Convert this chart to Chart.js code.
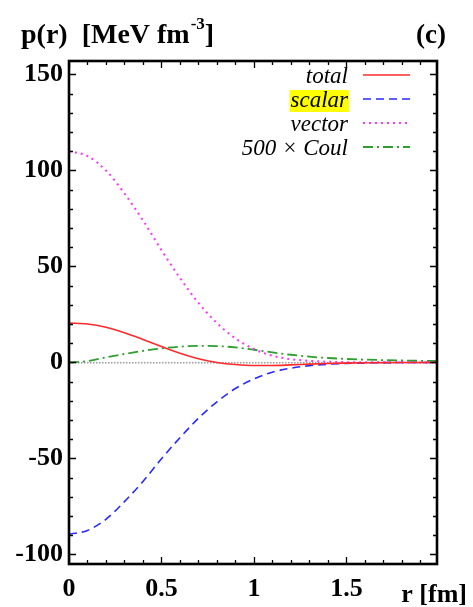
<!DOCTYPE html>
<html>
<head>
<meta charset="utf-8">
<script src="https://cdn.jsdelivr.net/npm/chart.js@4/dist/chart.umd.min.js"></script>
<style>
  html, body { margin: 0; padding: 0; background: #ffffff; }
  #wrap { width: 473px; height: 607px; position: relative; }
</style>
</head>
<body>
<div id="wrap"><canvas id="c" width="473" height="607"></canvas></div>
<script>
// radius grid (fm)
const radius = [0, 0.1, 0.2, 0.3, 0.4, 0.5, 0.6, 0.7, 0.8, 0.9, 1.0,
                1.1, 1.2, 1.3, 1.4, 1.5, 1.6, 1.7, 1.8, 1.9, 2.0];

// pressure components p(r) in MeV fm^-3
const pTotal  = [20.5, 20.0, 18.3, 15.5, 12.0, 8.3, 4.8, 1.9, 0.0, -1.1, -1.6,
                 -1.6, -1.3, -0.9, -0.6, -0.35, -0.2, -0.1, -0.05, -0.02, 0];
const pScalar = [-89.5, -87.5, -81.7, -72.5, -62.0, -50.2, -39.2, -29.1, -20.5, -13.6, -8.6,
                 -5.1, -3.0, -1.7, -0.95, -0.5, -0.26, -0.12, -0.06, -0.02, 0];
const pVector = [110, 107.5, 100, 88, 74, 58.5, 44, 31, 20.5, 12.5, 7,
                 3.5, 1.7, 0.8, 0.35, 0.15, 0.06, 0.02, 0.01, 0, 0];
const pCoul500 = [0, 0.7, 2.6, 4.4, 6.0, 7.3, 8.2, 8.6, 8.5, 7.8, 6.6,
                  5.2, 4.0, 3.0, 2.3, 1.8, 1.45, 1.2, 1.0, 0.85, 0.75];

const seriesNames = ['total', 'scalar', 'vector', '500 \u00d7 Coul'];

// axis ticks
const xTickValues = [0, 0.5, 1, 1.5];
const yTickValues = [-100, -50, 0, 50, 100, 150];
const xMinorStep = 0.1;
const yMinorStep = 10;

const toPoints = arr => radius.map((r, i) => ({ x: r, y: arr[i] }));

const SERIF = '"Liberation Serif", "DejaVu Serif", serif';

// frame, inward ticks on all four sides
const framePlugin = {
  id: 'frame',
  afterDraw(chart) {
    const { ctx, chartArea: a, scales: { x, y } } = chart;
    ctx.save();
    ctx.strokeStyle = '#000';
    ctx.lineWidth = 1.3;
    const majorLen = 7, minorLen = 4;
    const xmax = x.max, ymin = y.min, ymax = y.max;
    // x ticks
    for (let v = 0; v <= xmax + 1e-9; v += xMinorStep) {
      const vv = Math.round(v * 1000) / 1000;
      const isMajor = xTickValues.some(t => Math.abs(t - vv) < 1e-6);
      const len = isMajor ? majorLen : minorLen;
      const px = Math.round(x.getPixelForValue(vv)) + 0.5;
      ctx.beginPath();
      ctx.moveTo(px, a.bottom); ctx.lineTo(px, a.bottom - len);
      ctx.moveTo(px, a.top); ctx.lineTo(px, a.top + len);
      ctx.stroke();
    }
    // y ticks
    for (let v = Math.ceil(ymin / yMinorStep) * yMinorStep; v <= ymax; v += yMinorStep) {
      const isMajor = yTickValues.includes(v);
      const len = isMajor ? majorLen : minorLen;
      const py = Math.round(y.getPixelForValue(v)) + 0.5;
      ctx.beginPath();
      ctx.moveTo(a.left, py); ctx.lineTo(a.left + len, py);
      ctx.moveTo(a.right, py); ctx.lineTo(a.right - len, py);
      ctx.stroke();
    }
    // frame
    ctx.lineWidth = 2.6;
    ctx.strokeRect(a.left, a.top, a.right - a.left, a.bottom - a.top);
    ctx.restore();
  }
};

// titles and labels drawn as text
const textPlugin = {
  id: 'texts',
  afterDraw(chart) {
    const { ctx } = chart;
    ctx.save();
    ctx.fillStyle = '#000';
    ctx.textBaseline = 'alphabetic';
    // axis title top left
    ctx.font = 'bold 28px ' + SERIF;
    ctx.textAlign = 'left';
    let tx = 21;
    const base = 43;
    const part1 = 'p(r)  [MeV fm';
    ctx.fillText(part1, tx, base);
    tx += ctx.measureText(part1).width;
    ctx.font = 'bold 17px ' + SERIF;
    ctx.fillText('-3', tx + 1, base - 14);
    tx += ctx.measureText('-3').width + 1;
    ctx.font = 'bold 28px ' + SERIF;
    ctx.fillText(']', tx, base);
    // panel label
    ctx.textAlign = 'right';
    ctx.font = 'bold 27px ' + SERIF;
    ctx.fillText('(c)', 446, base);
    // x axis title
    ctx.font = 'bold 26px ' + SERIF;
    ctx.fillText('r [fm]', 467, 602);
    ctx.restore();
  }
};

// legend: right-aligned italic names, line samples to the right
const legendPlugin = {
  id: 'sampleLegend',
  afterDraw(chart) {
    const { ctx } = chart;
    ctx.save();
    ctx.font = 'italic 23px ' + SERIF;
    ctx.textAlign = 'right';
    ctx.textBaseline = 'alphabetic';
    chart.data.datasets.forEach((ds, i) => {
      const ly = 75 + 24 * i;
      const label = seriesNames[i];
      if (label === 'scalar') {
        const w = ctx.measureText(label).width;
        ctx.fillStyle = '#ffff00';
        ctx.fillRect(348 - w - 1, ly - 9, w + 2, 22);
      }
      ctx.fillStyle = '#000';
      ctx.fillText(label, 348, ly + 8);
      ctx.strokeStyle = ds.borderColor;
      ctx.lineWidth = ds.borderWidth;
      ctx.setLineDash(ds.borderDash || []);
      ctx.beginPath();
      ctx.moveTo(363, ly);
      ctx.lineTo(410, ly);
      ctx.stroke();
    });
    ctx.restore();
  }
};

new Chart(document.getElementById('c'), {
  type: 'line',
  data: {
    datasets: [
      { label: seriesNames[0], data: toPoints(pTotal), borderColor: '#ff2a2a', borderWidth: 1.6, borderDash: [] },
      { label: seriesNames[1], data: toPoints(pScalar), borderColor: '#2a2aff', borderWidth: 1.6, borderDash: [8, 5] },
      { label: seriesNames[2], data: toPoints(pVector), borderColor: '#ff33ff', borderWidth: 2, borderDash: [2, 4] },
      { label: seriesNames[3], data: toPoints(pCoul500), borderColor: '#2f9f2f', borderWidth: 1.8, borderDash: [10, 4, 2, 4] }
    ]
  },
  options: {
    responsive: false,
    animation: false,
    devicePixelRatio: 1,
    layout: { padding: { top: 61, right: 36, left: 0, bottom: 0 } },
    elements: {
      point: { radius: 0 },
      line: { cubicInterpolationMode: 'monotone', fill: false }
    },
    plugins: { legend: { display: false }, tooltip: { enabled: false }, title: { display: false } },
    scales: {
      x: {
        type: 'linear',
        min: 0,
        max: 1.99,
        afterBuildTicks: s => { s.ticks = xTickValues.map(v => ({ value: v })); },
        afterFit: s => { s.height = 43; },
        ticks: {
          color: '#000',
          font: { family: SERIF, size: 26, weight: 'bold' },
          padding: 2,
          maxRotation: 0,
          callback: v => String(v)
        },
        grid: { display: false },
        border: { display: false }
      },
      y: {
        type: 'linear',
        min: -105,
        max: 157,
        afterBuildTicks: s => { s.ticks = yTickValues.map(v => ({ value: v })); },
        afterFit: s => { s.width = 69; },
        ticks: {
          color: '#000',
          font: { family: SERIF, size: 26, weight: 'bold' },
          padding: 6,
          callback: v => String(v)
        },
        grid: {
          drawTicks: false,
          lineWidth: 1.5,
          color: c => (c.tick && c.tick.value === 0 ? '#9a9a9a' : 'rgba(0,0,0,0)')
        },
        border: { display: false, dash: [1.5, 1.5] }
      }
    }
  },
  plugins: [framePlugin, textPlugin, legendPlugin]
});
</script>
</body>
</html>
